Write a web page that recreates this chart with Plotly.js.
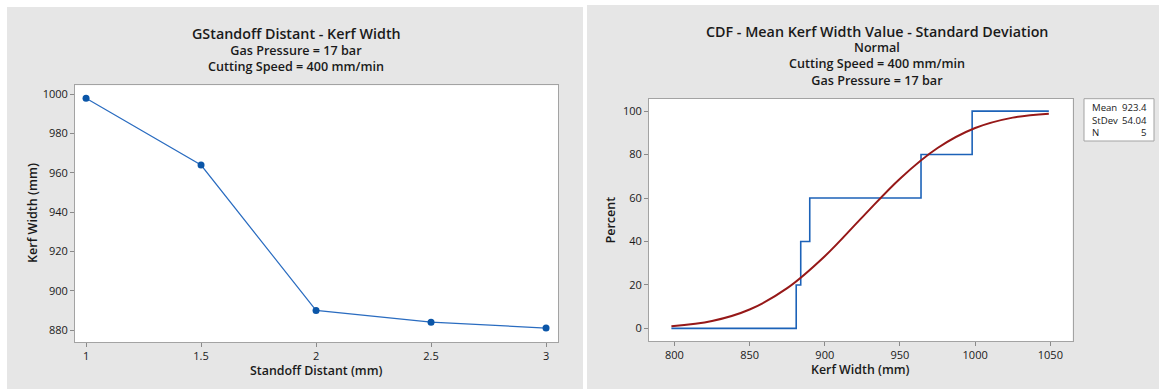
<!DOCTYPE html>
<html><head><meta charset="utf-8">
<script src="https://cdn.plot.ly/plotly-3.0.1.min.js"></script>
<style>html,body{margin:0;padding:0;background:#fff}</style>
</head><body><div id="chart" style="width:1159px;height:389px"></div>
<script>
// ---- data ----
const standoff = [1, 1.5, 2, 2.5, 3];
const kerfWidth = [998, 964, 890, 884, 881];
const xTicks = [1, 1.5, 2, 2.5, 3];
const yTicksLeft = [880, 900, 920, 940, 960, 980, 1000];
// empirical CDF (sorted kerf values, cumulative percent)
const ecdfX = [798, 881, 884, 890, 964, 998, 1049];
const ecdfY = [0, 20, 40, 60, 80, 100, 100];
// fitted normal CDF curve
const fitX = [798, 825, 850, 875, 900, 925, 950, 975, 1000, 1025, 1049];
const fitY = [1.0, 3.4, 8.7, 18.5, 33.2, 51.2, 68.9, 83.0, 92.2, 97.0, 98.8];
const xTicksRight = [800, 850, 900, 950, 1000, 1050];
const yTicksRight = [0, 20, 40, 60, 80, 100];
const statLabels = ["Mean", "StDev", "N"];
const statValues = ["923.4", "54.04", "5"];

const W = 1159, H = 389;
const px = x => x / W, py = y => 1 - y / H;
const FONT = "Open Sans, Noto Sans, sans-serif";
const txt = "#1a1a1a";

const traces = [
  {x: standoff, y: kerfWidth, xaxis: 'x', yaxis: 'y', mode: 'lines+markers',
   line: {color: '#2a6cc0', width: 1.2}, marker: {color: '#0b56a8', size: 7}, hoverinfo: 'skip'},
  {x: ecdfX, y: ecdfY, xaxis: 'x2', yaxis: 'y2', mode: 'lines',
   line: {color: '#1c62b8', width: 1.6, shape: 'hv'}, hoverinfo: 'skip'},
  {x: fitX, y: fitY, xaxis: 'x2', yaxis: 'y2', mode: 'lines',
   line: {color: '#961818', width: 2, shape: 'spline', smoothing: 1}, hoverinfo: 'skip'}
];

const axCommon = {showgrid: false, zeroline: false, showline: true, mirror: true,
  linecolor: '#a3a3a3', linewidth: 1, ticks: 'outside', ticklen: 4, tickcolor: '#8a8a8a',
  tickfont: {family: FONT, size: 11, color: txt}, fixedrange: true};

const layout = {
  width: W, height: H, margin: {l: 0, r: 0, t: 0, b: 0},
  paper_bgcolor: '#ffffff', plot_bgcolor: '#ffffff', showlegend: false,
  xaxis: Object.assign({}, axCommon, {domain: [px(75), px(558)], range: [0.952, 3.052],
    tickvals: xTicks, ticktext: xTicks.map(String), anchor: 'y'}),
  yaxis: Object.assign({}, axCommon, {domain: [py(342), py(85.3)], range: [873.9, 1004.6],
    tickvals: yTicksLeft, anchor: 'x'}),
  xaxis2: Object.assign({}, axCommon, {domain: [px(649), px(1072.6)], range: [783.1, 1064.8],
    tickvals: xTicksRight, anchor: 'y2'}),
  yaxis2: Object.assign({}, axCommon, {domain: [py(341), py(98.7)], range: [-5.8, 105.7],
    tickvals: yTicksRight, anchor: 'x2'}),
  shapes: [
    {type: 'rect', xref: 'paper', yref: 'paper', x0: px(7), x1: px(583), y0: 0, y1: py(7),
     fillcolor: '#e6e6e6', line: {width: 0}, layer: 'below'},
    {type: 'rect', xref: 'paper', yref: 'paper', x0: px(587), x1: 1, y0: 0, y1: py(5),
     fillcolor: '#e6e6e6', line: {width: 0}, layer: 'below'},
    {type: 'rect', xref: 'paper', yref: 'paper', x0: px(75), x1: px(558), y0: py(342), y1: py(85.3),
     fillcolor: '#ffffff', line: {width: 0}, layer: 'below'},
    {type: 'rect', xref: 'paper', yref: 'paper', x0: px(649), x1: px(1072.6), y0: py(341), y1: py(98.7),
     fillcolor: '#ffffff', line: {width: 0}, layer: 'below'},
    {type: 'rect', xref: 'paper', yref: 'paper', x0: px(1084), x1: px(1154), y0: py(141), y1: py(98.7),
     fillcolor: '#ffffff', line: {width: 1, color: '#a3a3a3'}}
  ],
  annotations: []
};

function ann(text, x, y, size, weight, opts) {
  layout.annotations.push(Object.assign({text: text,
    xref: 'paper', yref: 'paper', x: px(x), y: py(y), showarrow: false,
    xanchor: 'center', yanchor: 'middle',
    font: {family: FONT, size: size, color: txt, weight: weight}}, opts || {}));
}
// left titles
ann('GStandoff Distant - Kerf Width', 296, 33.5, 14.3, 600);
ann('Gas Pressure = 17 bar<br>Cutting Speed = 400 mm/min', 296, 58.5, 12.6, 600);
ann('Standoff Distant (mm)', 316, 370.5, 12.4, 600);
ann('Kerf Width (mm)', 32, 213, 12.6, 600, {textangle: -90});
// right titles
ann('CDF - Mean Kerf Width Value - Standard Deviation', 877, 31.5, 14.3, 600);
ann('Normal<br>Cutting Speed = 400 mm/min<br>Gas Pressure = 17 bar', 877, 64, 12.6, 600);
ann('Kerf Width (mm)', 860, 369.5, 12.4, 600);
ann('Percent', 609.6, 220, 12.6, 600, {textangle: -90});
// stats box
const statY = [107.3, 120.3, 132.7];
statLabels.forEach((s, i) => {
  ann(s, 1090, statY[i], 9.6, 400, {xanchor: 'left'});
  ann(statValues[i], 1149, statY[i], 9.6, 400, {xanchor: 'right'});
});

Plotly.newPlot('chart', traces, layout, {staticPlot: true, displayModeBar: false});
</script></body></html>
